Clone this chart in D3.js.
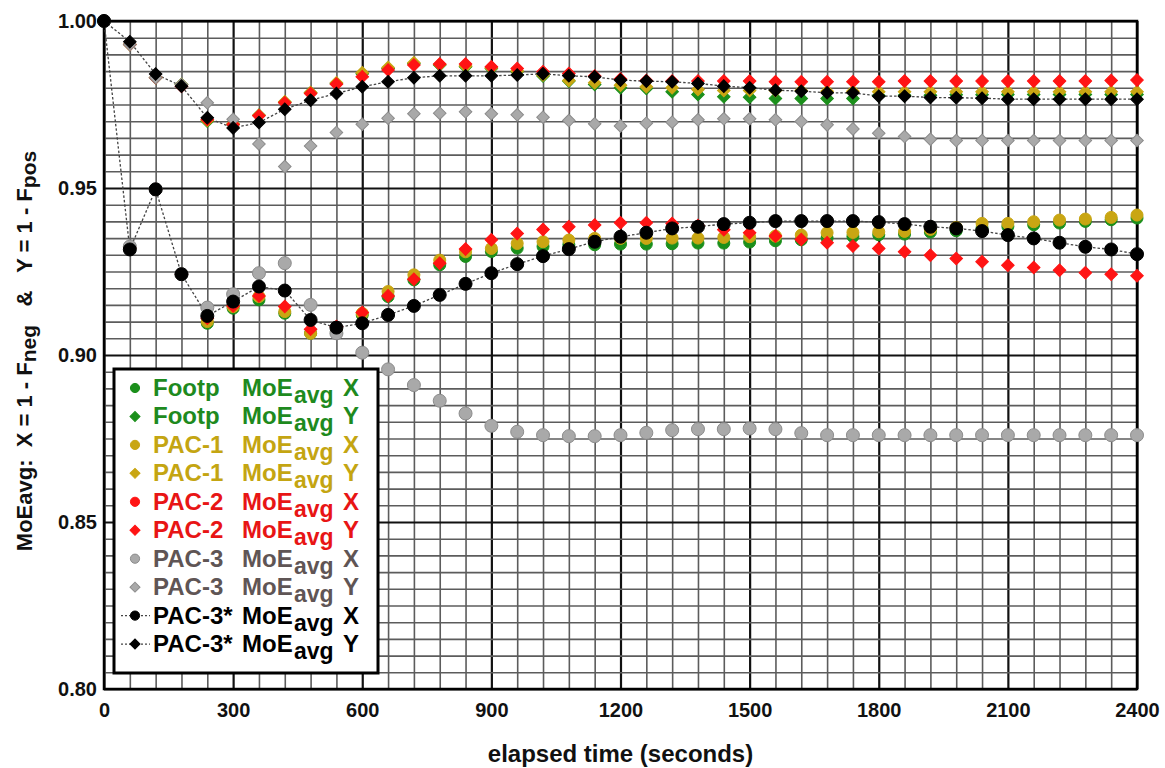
<!DOCTYPE html>
<html>
<head>
<meta charset="utf-8">
<script src="https://cdn.jsdelivr.net/npm/d3@7"></script>
<style>
  body { margin: 0; background: #fff; }
  svg { font-family: "Liberation Sans", Arial, sans-serif; font-weight: bold; }
  text { white-space: pre; }
</style>
</head>
<body>
<div id="chart"></div>
<script>
"use strict"

// elapsed time (s)
const times = [0, 60, 120, 180, 240, 300, 360, 420, 480, 540, 600, 660, 720, 780, 840, 900, 960, 1020, 1080, 1140,
	1200, 1260, 1320, 1380, 1440, 1500, 1560, 1620, 1680, 1740, 1800, 1860, 1920, 1980, 2040, 2100, 2160, 2220, 2280, 2340, 2400];

// X = 1 - Fneg
const footpX = [1.000, 0.932, 0.9496, 0.9242, 0.9095, 0.914, 0.9165, 0.9125, 0.9065, 0.907, 0.912, 0.9175, 0.9225, 0.927, 0.9295, 0.931, 0.932, 0.9325, 0.933, 0.933,
	0.9332, 0.9332, 0.9333, 0.9335, 0.9335, 0.9338, 0.9342, 0.9345, 0.935, 0.9355, 0.936, 0.9362, 0.9368, 0.9372, 0.938, 0.9385, 0.939, 0.9395, 0.940, 0.9405, 0.941];
const pac1X = [1.000, 0.932, 0.9496, 0.9242, 0.910, 0.9145, 0.9175, 0.913, 0.9065, 0.9075, 0.9125, 0.919, 0.924, 0.9284, 0.9309, 0.9319, 0.9334, 0.9339, 0.9344, 0.9349,
	0.9349, 0.9349, 0.935, 0.935, 0.9352, 0.9354, 0.9356, 0.9359, 0.9366, 0.9367, 0.9369, 0.937, 0.9376, 0.9382, 0.9394, 0.9394, 0.9399, 0.9404, 0.9407, 0.9412, 0.9419];
const pac2X = [1.000, 0.932, 0.9496, 0.9242, 0.911, 0.9147, 0.9177, 0.9145, 0.9077, 0.9085, 0.9127, 0.9177, 0.9227, 0.9275, 0.9317, 0.9345, 0.9364, 0.9376, 0.9384, 0.9389,
	0.9396, 0.9396, 0.9394, 0.9388, 0.9375, 0.9366, 0.9356, 0.9346, 0.9336, 0.9326, 0.9319, 0.9309, 0.9299, 0.9289, 0.9279, 0.9269, 0.9262, 0.9254, 0.9246, 0.9242, 0.9237];
const pac3X = [1.000, 0.9325, 0.9496, 0.9242, 0.9142, 0.9182, 0.9245, 0.9275, 0.915, 0.9065, 0.9007, 0.8957, 0.891, 0.8863, 0.8825, 0.8788, 0.877, 0.876, 0.8757, 0.8757,
	0.876, 0.8767, 0.8775, 0.8778, 0.8778, 0.878, 0.8778, 0.8766, 0.876, 0.876, 0.876, 0.876, 0.876, 0.876, 0.876, 0.876, 0.876, 0.876, 0.876, 0.876, 0.876];
const pac3sX = [1.000, 0.9316, 0.9496, 0.9242, 0.9117, 0.916, 0.9205, 0.9193, 0.9105, 0.9082, 0.9095, 0.912, 0.9147, 0.918, 0.9213, 0.9245, 0.9272, 0.9296, 0.9317, 0.9339,
	0.9354, 0.9366, 0.9379, 0.9384, 0.9392, 0.9396, 0.9401, 0.9401, 0.9401, 0.9401, 0.9398, 0.9392, 0.9384, 0.9379, 0.9371, 0.9359, 0.9349, 0.9336, 0.9324, 0.9316, 0.9302];

// Y = 1 - Fpos
const footpY = [1.000, 0.993, 0.983, 0.981, 0.970, 0.969, 0.9718, 0.9757, 0.9785, 0.9813, 0.9842, 0.9858, 0.9872, 0.9868, 0.9863, 0.9858, 0.9848, 0.9835, 0.982, 0.981,
	0.980, 0.9798, 0.9788, 0.978, 0.9773, 0.9772, 0.9768, 0.9768, 0.9768, 0.9768, 0.9777, 0.9778, 0.9778, 0.9779, 0.9779, 0.978, 0.978, 0.978, 0.978, 0.978, 0.978];
const pac1Y = [1.000, 0.993, 0.983, 0.981, 0.9702, 0.9692, 0.9718, 0.9758, 0.9786, 0.9815, 0.9845, 0.9861, 0.9875, 0.987, 0.9865, 0.986, 0.985, 0.9838, 0.9822, 0.9815,
	0.9808, 0.9803, 0.980, 0.9795, 0.9792, 0.9792, 0.9792, 0.9792, 0.979, 0.979, 0.9788, 0.9788, 0.9788, 0.9788, 0.9788, 0.9788, 0.9788, 0.9788, 0.9788, 0.9788, 0.9788];
const pac2Y = [1.000, 0.993, 0.983, 0.9805, 0.9705, 0.969, 0.9716, 0.9755, 0.9783, 0.9811, 0.9833, 0.9853, 0.9868, 0.9871, 0.9871, 0.9863, 0.9858, 0.9848, 0.9843, 0.9835,
	0.9826, 0.9822, 0.982, 0.982, 0.982, 0.982, 0.9818, 0.9818, 0.9818, 0.9818, 0.9818, 0.982, 0.982, 0.982, 0.982, 0.982, 0.982, 0.982, 0.982, 0.9822, 0.9823];
const pac3Y = [1.000, 0.993, 0.983, 0.981, 0.9755, 0.9706, 0.9632, 0.9564, 0.9626, 0.9666, 0.9691, 0.9709, 0.9722, 0.9724, 0.9728, 0.9722, 0.9719, 0.9712, 0.9702, 0.9692,
	0.9686, 0.9694, 0.9697, 0.9704, 0.9707, 0.9707, 0.9704, 0.9699, 0.9689, 0.9677, 0.9664, 0.9654, 0.9646, 0.9642, 0.9642, 0.9642, 0.9642, 0.9642, 0.9642, 0.9642, 0.9642];
const pac3sY = [1.000, 0.9938, 0.9841, 0.9805, 0.971, 0.968, 0.9696, 0.9736, 0.9763, 0.9783, 0.9803, 0.9818, 0.983, 0.9836, 0.9836, 0.9836, 0.9838, 0.9842, 0.9836, 0.9833,
	0.9823, 0.982, 0.9818, 0.9813, 0.9805, 0.980, 0.9793, 0.979, 0.9785, 0.9785, 0.9775, 0.9775, 0.9771, 0.977, 0.9769, 0.9766, 0.9766, 0.9766, 0.9766, 0.9766, 0.9766];

const xTicks = [0, 300, 600, 900, 1200, 1500, 1800, 2100, 2400];
const yTicks = [0.80, 0.85, 0.90, 0.95, 1.00];

// series in draw order (same as legend order)
const series = [
	{name: "Footp", axis: "X", values: footpX, fill: "#1b8f1b", stroke: "#1b8f1b", text: "#1e8a1e", shape: "circle", legendShape: "circle"},
	{name: "Footp", axis: "Y", values: footpY, fill: "#1b8f1b", stroke: "#1b8f1b", text: "#1e8a1e", shape: "diamond", legendShape: "diamond"},
	{name: "PAC-1", axis: "X", values: pac1X, fill: "#c9a613", stroke: "#c9a613", text: "#c4a512", shape: "circle", legendShape: "circle"},
	{name: "PAC-1", axis: "Y", values: pac1Y, fill: "#c9a613", stroke: "#c9a613", text: "#c4a512", shape: "diamond", legendShape: "diamond"},
	{name: "PAC-2", axis: "X", values: pac2X, fill: "#ff1414", stroke: "#ff1414", text: "#e81515", shape: "diamond", legendShape: "circle"},
	{name: "PAC-2", axis: "Y", values: pac2Y, fill: "#ff1414", stroke: "#ff1414", text: "#e81515", shape: "diamond", legendShape: "diamond"},
	{name: "PAC-3", axis: "X", values: pac3X, fill: "#a9a9a9", stroke: "#8c8c8c", text: "#5f5555", shape: "circle", legendShape: "circle"},
	{name: "PAC-3", axis: "Y", values: pac3Y, fill: "#a9a9a9", stroke: "#8c8c8c", text: "#5f5555", shape: "diamond", legendShape: "diamond"},
	{name: "PAC-3*", axis: "X", values: pac3sX, fill: "#000", stroke: "#000", text: "#000", shape: "circle", legendShape: "circle", line: true},
	{name: "PAC-3*", axis: "Y", values: pac3sY, fill: "#000", stroke: "#000", text: "#000", shape: "diamond", legendShape: "diamond", line: true},
];

const W = 1165, H = 768;
const margin = {left: 104, right: 28, top: 21, bottom: 79};

const svg = d3.select("#chart").append("svg")
	.attr("width", W)
	.attr("height", H);

const xScale = d3.scaleLinear().domain([0, 2400]).range([margin.left, W - margin.right]);
const yScale = d3.scaleLinear().domain([0.80, 1.00]).range([H - margin.bottom, margin.top]);

// grid: minor every 60 s / 0.005, major every 300 s / 0.05
const xMinor = d3.range(0, 2401, 60), yMinor = yScale.ticks(40);
const isMajorY = d => Math.abs(d * 20 - Math.round(d * 20)) < 1e-6;

svg.append("g")
	.attr("transform", `translate(0,${yScale(0.80)})`)
	.call(d3.axisBottom(xScale).tickValues(xMinor).tickSize(-(yScale(0.80) - yScale(1.00))).tickFormat(""))
	.call(g => g.select(".domain").remove())
	.selectAll("line")
		.attr("stroke", d => d % 300 === 0 ? "#111" : "#5c5c5c")
		.attr("stroke-width", d => d % 300 === 0 ? 2.2 : 1.6);

svg.append("g")
	.attr("transform", `translate(${xScale(0)},0)`)
	.call(d3.axisLeft(yScale).tickValues(yMinor).tickSize(-(xScale(2400) - xScale(0))).tickFormat(""))
	.call(g => g.select(".domain").remove())
	.selectAll("line")
		.attr("stroke", d => isMajorY(d) ? "#111" : "#5c5c5c")
		.attr("stroke-width", d => isMajorY(d) ? 2.2 : 1.6);

// frame
svg.append("rect")
	.attr("x", xScale(0))
	.attr("y", yScale(1.00))
	.attr("width", xScale(2400) - xScale(0))
	.attr("height", yScale(0.80) - yScale(1.00))
	.attr("fill", "none")
	.attr("stroke", "#000")
	.attr("stroke-width", 2.5);

// tick labels
svg.append("g")
	.attr("transform", `translate(0,${yScale(0.80)})`)
	.call(d3.axisBottom(xScale).tickValues(xTicks).tickSize(0).tickPadding(14).tickFormat(d3.format("d")))
	.call(g => g.select(".domain").remove())
	.selectAll("text")
		.attr("font-family", "'Liberation Sans', Arial, sans-serif")
		.attr("font-weight", "bold")
		.attr("font-size", 20)
		.attr("fill", "#111");

svg.append("g")
	.attr("transform", `translate(${xScale(0)},0)`)
	.call(d3.axisLeft(yScale).tickValues(yTicks).tickSize(0).tickPadding(7).tickFormat(d3.format(".2f")))
	.call(g => g.select(".domain").remove())
	.selectAll("text")
		.attr("font-family", "'Liberation Sans', Arial, sans-serif")
		.attr("font-weight", "bold")
		.attr("font-size", 20)
		.attr("fill", "#111");

// axis titles
svg.append("text")
	.attr("x", (xScale(0) + xScale(2400)) / 2)
	.attr("y", 762)
	.attr("text-anchor", "middle")
	.attr("font-size", 24)
	.attr("fill", "#111")
	.text("elapsed time (seconds)");

const yTitle = svg.append("text")
	.attr("transform", "translate(32,351)rotate(-90)")
	.attr("text-anchor", "middle")
	.attr("font-size", 22)
	.attr("fill", "#111");
const titleParts = [["MoEavg:  X = 1 - F", 0], ["neg", 1], ["   &   Y = 1 - F", 0], ["pos", 1]];
let prevSub = 0;
titleParts.forEach(([t, sub]) => {
	yTitle.append("tspan")
		.attr("dy", (sub - prevSub) * 4)
		.attr("font-size", sub ? 21 : 22)
		.text(t);
	prevSub = sub;
});

// marks
const line = d3.line().x((d, i) => xScale(times[i])).y(d => yScale(d));
const plot = svg.append("g");

series.filter(s => s.line).forEach(s => {
	plot.append("path")
		.datum(s.values)
		.attr("d", line)
		.attr("fill", "none")
		.attr("stroke", "#444")
		.attr("stroke-width", 1.3)
		.attr("stroke-dasharray", "2.5,2");
});

function drawMark(g, shape, cx, cy, r, s) {
	if (shape === "circle") {
		g.append("circle")
			.attr("cx", cx).attr("cy", cy).attr("r", r)
			.attr("fill", s.fill).attr("stroke", s.stroke).attr("stroke-width", 1);
	} else {
		g.append("path")
			.attr("d", d3.symbol(d3.symbolSquare, 2 * r * r)())
			.attr("transform", `translate(${cx},${cy})rotate(45)`)
			.attr("fill", s.fill).attr("stroke", s.stroke).attr("stroke-width", 1);
	}
}

series.forEach(s => {
	const g = plot.append("g");
	s.values.forEach((v, i) => {
		const big = s.name === "PAC-3*" || s.name === "PAC-3";
		const r = s.shape === "circle" ? (big ? 6.5 : 6) : 6.3;
		drawMark(g, s.shape, xScale(times[i]), yScale(v), r, s);
	});
});

// legend
const legend = svg.append("g");
legend.append("rect")
	.attr("x", 114)
	.attr("y", 369)
	.attr("width", 264)
	.attr("height", 304)
	.attr("fill", "#fff")
	.attr("stroke", "#000")
	.attr("stroke-width", 3);

series.forEach((s, i) => {
	const base = 396 + i * 28.45;
	const cy = base - 8;
	if (s.line) {
		legend.append("line")
			.attr("x1", 121).attr("x2", 150)
			.attr("y1", cy).attr("y2", cy)
			.attr("stroke", "#444").attr("stroke-width", 1.2)
			.attr("stroke-dasharray", "2,2");
	}
	drawMark(legend, s.legendShape, 135, cy, s.legendShape === "circle" ? 4.6 : 5, s);
	legend.append("text").attr("x", 153).attr("y", base).attr("font-size", 24).attr("fill", s.text).text(s.name);
	legend.append("text").attr("x", 242).attr("y", base).attr("font-size", 24).attr("fill", s.text).text("MoE");
	legend.append("text").attr("x", 294).attr("y", base + 7).attr("font-size", 23).attr("fill", s.text).text("avg");
	legend.append("text").attr("x", 343).attr("y", base).attr("font-size", 24).attr("fill", s.text).text(s.axis);
});
</script>
</body>
</html>
